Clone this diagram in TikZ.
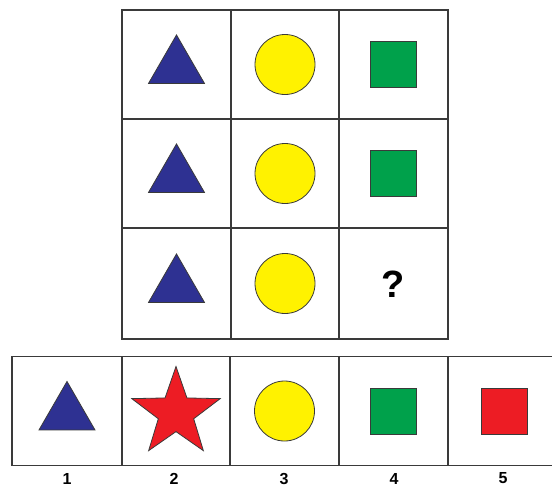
\documentclass[tikz,border=0pt]{standalone}
\usepackage{fontspec}
\setmainfont{Liberation Sans}
\usetikzlibrary{shapes.geometric}
\definecolor{triblue}{HTML}{2E3192}
\definecolor{circyellow}{HTML}{FFF200}
\definecolor{sqgreen}{HTML}{00A14B}
\definecolor{sqred}{HTML}{ED1C24}
\definecolor{edgegray}{HTML}{3A3A3A}
\tikzset{
  cellbox/.style={draw=edgegray, line width=1.3pt, rectangle, inner sep=0pt, minimum height=109pt},
  shapeline/.style={draw=edgegray, line width=0.8pt, inner sep=0pt},
  tri/.style={shapeline, fill=triblue, regular polygon, regular polygon sides=3, minimum size=64.7pt},
  circ/.style={shapeline, fill=circyellow, circle, minimum size=60pt},
  gsq/.style={shapeline, fill=sqgreen, rectangle, minimum width=46pt, minimum height=46pt},
  rsq/.style={shapeline, fill=sqred, rectangle, minimum width=46pt, minimum height=46pt},
  rstar/.style={shapeline, fill=sqred, star, star points=5, star point ratio=2.5, minimum size=93pt},
  numlabel/.style={font=\fontsize{16}{16}\selectfont\bfseries, inner sep=1pt}
}
\begin{document}
\begin{tikzpicture}[x=1pt,y=-1pt]
\useasboundingbox (0,0) rectangle (552,488);
\fill[white] (0,0) rectangle (552,488);
\begin{scope}
\clip (0,0) rectangle (552,488);
% top 3x3 grid
\foreach \c/\x/\w in {1/176.5/109, 2/285/108, 3/393.5/109}{
  \foreach \r/\y/\h in {1/64.5/109, 2/173.5/109, 3/283.5/111}{
    \node[cellbox, minimum width=\w pt, minimum height=\h pt] (t\r\c) at (\x,\y) {};
  }
}
% top shapes
\foreach \r in {1,2,3}{
  \node[tri] (tri\r) at ([yshift=-2.8pt]t\r1.center) {};
  \node[circ] (cir\r) at (t\r2.center) {};
}
\node[gsq] (gs1) at (t13.center) {};
\node[gsq] (gs2) at (t23.center) {};
\node[font=\fontsize{38}{38}\selectfont\bfseries, inner sep=0pt] (qm) at ([yshift=-1pt]t33.center) {?};
% bottom row
\node[cellbox, minimum width=110pt] (b1) at (67,411) {};
\node[cellbox, minimum width=108pt] (b2) at (176,411) {};
\node[cellbox, minimum width=109pt] (b3) at (284.5,411) {};
\node[cellbox, minimum width=109pt] (b4) at (393.5,411) {};
\node[cellbox, minimum width=112pt] (b5) at (504,411) {};
\node[tri] (btri) at ([yshift=-2.8pt]b1.center) {};
\node[rstar] (bstar) at ([yshift=-2pt]b2.center) {};
\node[circ] (bcir) at (b3.center) {};
\node[gsq] (bgs) at (b4.center) {};
\node[rsq] (brs) at (b5.center) {};
\end{scope}
% labels
\foreach \i/\x in {1/67,2/174,3/284,4/394,5/503}{
  \node[numlabel] (lab\i) at (\x,478.5) {\i};
}
\end{tikzpicture}
\end{document}
